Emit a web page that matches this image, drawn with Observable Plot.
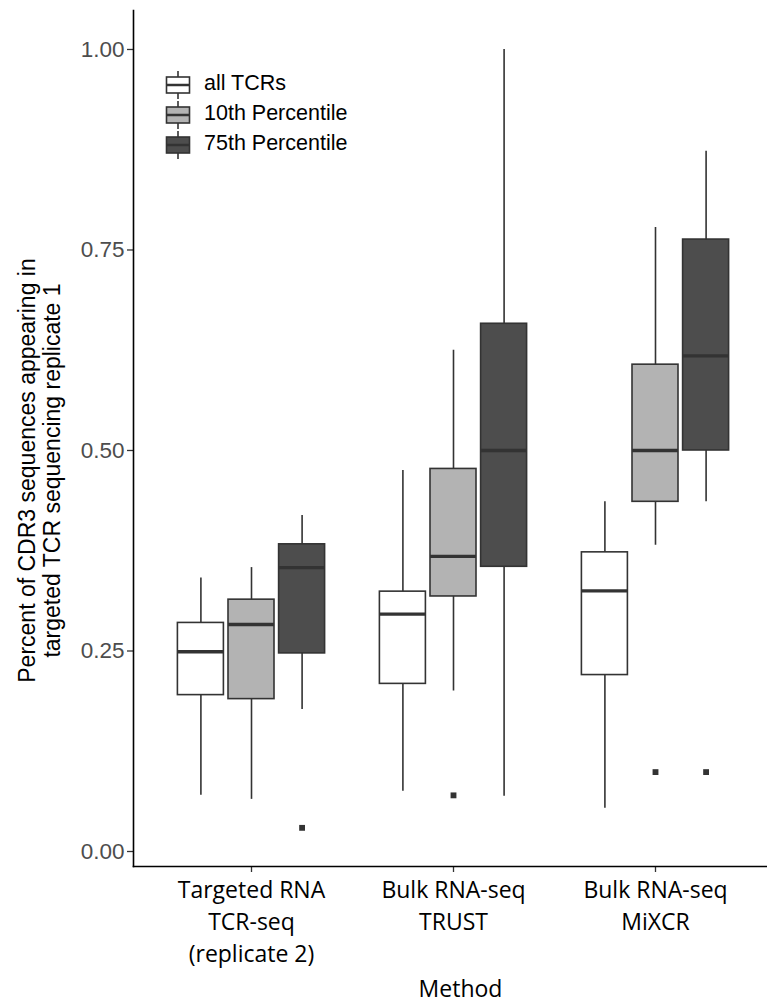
<!DOCTYPE html>
<html><head><meta charset="utf-8">
<script src="https://cdn.jsdelivr.net/npm/d3@7"></script>
<script src="https://cdn.jsdelivr.net/npm/@observablehq/plot@0.6"></script>
<style>
body{margin:0;background:#fff;}
#wrap{position:relative;width:767px;height:1004px;overflow:hidden;}
#legend{position:absolute;left:165px;top:70px;font-family:"Liberation Sans",Arial,sans-serif;font-size:21.5px;color:#000;}
.row{display:flex;align-items:center;height:30.2px;}
.row svg{margin-right:13px;}
.row span{position:relative;top:-2px;}
</style></head><body><div id="wrap"><div id="legend"></div></div>
<script>
// ---- data ----
const methods = ["Targeted RNA\nTCR-seq\n(replicate 2)", "Bulk RNA-seq\nTRUST", "Bulk RNA-seq\nMiXCR"];
const groups = ["all TCRs", "10th Percentile", "75th Percentile"];
const fills = ["#ffffff", "#b3b3b3", "#4d4d4d"];
// rows: methods, columns: groups
const lowerWhisker = [[0.070, 0.065, 0.177], [0.075, 0.200, 0.069], [0.054, 0.382, 0.436]];
const q1Values     = [[0.195, 0.190, 0.247], [0.209, 0.318, 0.355], [0.220, 0.436, 0.500]];
const medianValues = [[0.249, 0.283, 0.354], [0.296, 0.368, 0.500], [0.325, 0.500, 0.618]];
const q3Values     = [[0.285, 0.314, 0.383], [0.324, 0.477, 0.658], [0.373, 0.607, 0.763]];
const upperWhisker = [[0.341, 0.354, 0.419], [0.475, 0.625, 1.000], [0.436, 0.778, 0.873]];
const outlierMethod = [0, 1, 2, 2];
const outlierGroup  = [2, 1, 1, 2];
const outlierValue  = [0.0295, 0.070, 0.099, 0.099];
const yTicks = [0, 0.25, 0.5, 0.75, 1];
const yLabel = "Percent of CDR3 sequences appearing in\ntargeted TCR sequencing replicate 1";
const xLabel = "Method";

// ---- build tables ----
const rows = [];
methods.forEach((m, i) => groups.forEach((g, j) => rows.push({
  method: m, group: g, lo: lowerWhisker[i][j], q1: q1Values[i][j],
  med: medianValues[i][j], q3: q3Values[i][j], hi: upperWhisker[i][j]
})));
const outliers = outlierValue.map((v, k) => ({method: methods[outlierMethod[k]], group: groups[outlierGroup[k]], value: v}));

const slot = 50.6;
const ink = "#333333";
const marks = [];
groups.forEach((g, j) => {
  const data = rows.filter(d => d.group === g);
  const dx = (j - 1) * slot;
  marks.push(Plot.ruleX(data, {x: "method", y1: "lo", y2: "hi", dx, stroke: ink, strokeWidth: 1.6}));
  marks.push(Plot.barY(data, {x: "method", y1: "q1", y2: "q3", dx, fill: fills[j], stroke: ink, strokeWidth: 1.6}));
  marks.push(Plot.tickY(data, {x: "method", y: "med", dx, stroke: ink, strokeWidth: 3.4}));
  marks.push(Plot.dot(outliers.filter(o => o.group === g), {x: "method", y: "value", dx, symbol: "square", r: 3.3, fill: ink, stroke: "none"}));
});

const chart = Plot.plot({
  width: 767, height: 1004,
  marginLeft: 133, marginRight: 0, marginTop: 10, marginBottom: 138,
  x: {domain: methods, paddingInner: 0.7706, paddingOuter: 0.4492, align: 0.5165, axis: null},
  y: {domain: [-0.0187, 1.0486], axis: null},
  marks: [
    ...marks,
    Plot.axisY({ticks: yTicks, tickFormat: d3.format(".2f"), tickSize: 6, tickPadding: 3, stroke: ink, strokeWidth: 1.3,
      fill: "#4d4d4d", fontSize: 22.5, fontFamily: "Liberation Sans, Arial, sans-serif", label: null}),
    Plot.axisX({tickSize: 6, tickPadding: 3, stroke: ink, strokeWidth: 1.3, fill: "#000", fontSize: 23,
      fontFamily: "Open Sans, sans-serif", lineHeight: 1.39, label: null}),
    Plot.frame({anchor: "left", stroke: "#000", strokeWidth: 1.6}),
    Plot.frame({anchor: "bottom", stroke: "#000", strokeWidth: 1.6}),
    Plot.text([yLabel], {frameAnchor: "left", rotate: -90, dx: -94.5, dy: 32, textAnchor: "middle", lineAnchor: "middle", lineHeight: 1.09,
      fontSize: 23, fontFamily: "Liberation Sans, Arial, sans-serif", fill: "#000"}),
    Plot.text([xLabel], {frameAnchor: "bottom", dx: 10, dy: 123, textAnchor: "middle", lineAnchor: "middle",
      fontSize: 23, fontFamily: "Open Sans, sans-serif", fill: "#000"})
  ]
});
document.getElementById("wrap").prepend(chart);

// ---- legend (inside the panel, top-left) ----
const legend = d3.select("#legend");
groups.forEach((g, j) => {
  const row = legend.append("div").attr("class", "row");
  const s = row.append("svg").attr("width", 26).attr("height", 30);
  s.append("line").attr("x1", 13).attr("x2", 13).attr("y1", 1).attr("y2", 29).attr("stroke", ink).attr("stroke-width", 1.6);
  s.append("rect").attr("x", 1.5).attr("y", 7).attr("width", 23).attr("height", 16).attr("fill", fills[j]).attr("stroke", ink).attr("stroke-width", 1.6);
  s.append("line").attr("x1", 1.5).attr("x2", 24.5).attr("y1", 15).attr("y2", 15).attr("stroke", ink).attr("stroke-width", 2.5);
  row.append("span").text(g);
});
</script>
</body></html>
